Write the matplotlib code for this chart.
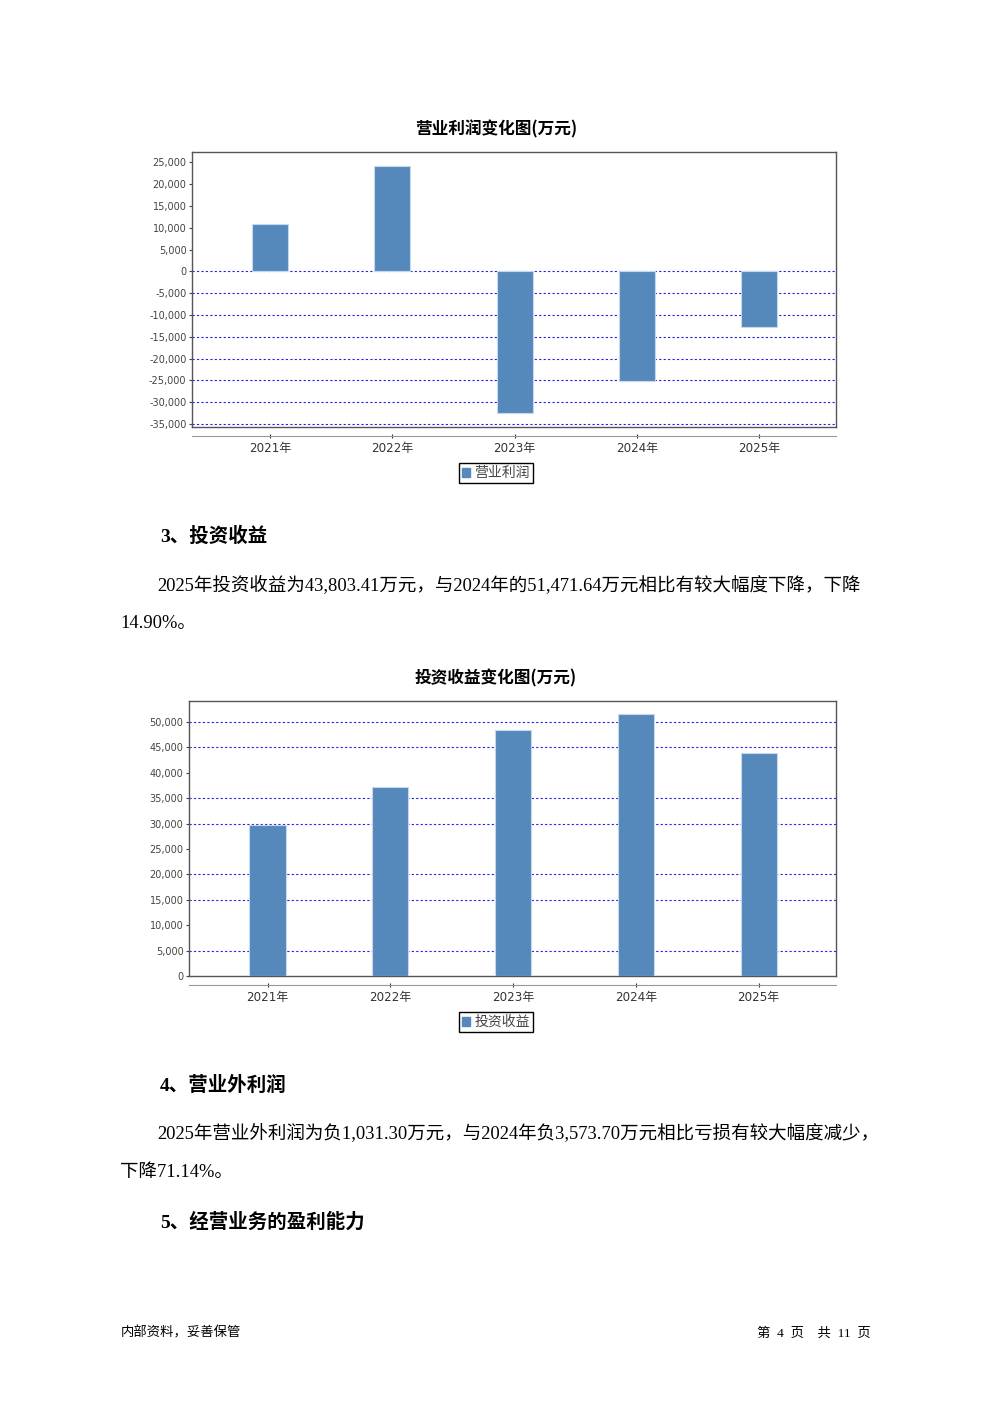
import matplotlib.pyplot as plt
from matplotlib.patches import Patch
from matplotlib.ticker import FuncFormatter

plt.rcParams['font.family'] = ['DejaVu Sans', 'Noto Sans CJK SC']
plt.rcParams['axes.unicode_minus'] = False

# 数据
years = ['2021年', '2022年', '2023年', '2024年', '2025年']
op_profit = [10800, 24200, -32600, -25100, -12800]
invest_income = [29700, 37200, 48300, 51471.64, 43803.41]

W, H = 992, 1403
fig = plt.figure(figsize=(W / 100, H / 100), dpi=100)

BAR = '#5588bb'
EDGE = '#c8d8ec'
CJK_SERIF = ['Liberation Serif', 'Noto Sans CJK SC']


def px_axes(l, t, r, b):
    return fig.add_axes([l / W, 1 - b / H, (r - l) / W, (b - t) / H])


def bar_chart(box, title, title_y, values, ylim, yticks, grid, label, legend_y):
    l, t, r, b = box
    ax = px_axes(l, t, r, b)
    x = range(len(years))
    ax.bar(x, values, width=0.295, color=BAR, edgecolor=EDGE, linewidth=0.8, zorder=3)
    for g in grid:
        ax.axhline(g, color='#2222ee', lw=0.8, ls=(0, (2, 2)), zorder=1)
    ax.set_ylim(*ylim)
    ax.set_xlim(-0.64, len(years) - 1 + 0.63)
    ax.set_yticks(yticks)
    ax.yaxis.set_major_formatter(FuncFormatter(lambda v, p: f'{int(v):,}'))
    ax.tick_params(axis='y', labelsize=7, colors='#444444', length=2, pad=2)
    ax.set_xticks([])
    for s in ax.spines.values():
        s.set_color('#555555')
        s.set_linewidth(1)
    sec = ax.secondary_xaxis(-9 / (b - t))
    sec.set_xticks(list(x))
    sec.set_xticklabels(years)
    sec.tick_params(axis='x', labelsize=8.6, colors='#333333', length=3, direction='inout', pad=3)
    sec.spines['bottom'].set_color('#999999')
    fig.text(496 / W, 1 - title_y / H, title, ha='center', va='center',
             fontsize=12, fontweight='bold', family=['Noto Sans CJK SC'])
    leg = fig.legend(handles=[Patch(facecolor=BAR, edgecolor=BAR, label=label)],
                     loc='center', bbox_to_anchor=(496 / W, 1 - legend_y / H),
                     fontsize=10, fancybox=False, edgecolor='black', framealpha=1,
                     handlelength=0.6, handleheight=0.6, handletextpad=0.3,
                     borderpad=0.25, borderaxespad=0)
    leg.get_frame().set_linewidth(1)
    for txt in leg.get_texts():
        txt.set_color('#444444')
    return ax


bar_chart((192, 152, 836, 427), '营业利润变化图(万元)', 129, op_profit,
          (-35700, 27400), list(range(-35000, 25001, 5000)),
          list(range(-35000, 1, 5000)), '营业利润', 473)

bar_chart((189, 701, 836, 976), '投资收益变化图(万元)', 678, invest_income,
          (0, 54100), list(range(0, 50001, 5000)),
          [5000, 15000, 20000, 30000, 35000, 45000, 50000], '投资收益', 1022)


def put(x, y, s, size=13.3, bold=False, family=CJK_SERIF):
    fig.text(x / W, 1 - y / H, s, ha='left', va='center', fontsize=size,
             fontweight='bold' if bold else 'normal', family=family)


put(160, 536, '3、投资收益', size=14, bold=True)
put(157, 585, '2025年投资收益为43,803.41万元，与2024年的51,471.64万元相比有较大幅度下降，下降')
put(120, 623, '14.90%。')
put(160, 1085, '4、营业外利润', size=14, bold=True)
put(157, 1134, '2025年营业外利润为负1,031.30万元，与2024年负3,573.70万元相比亏损有较大幅度减少，')
put(120, 1172, '下降71.14%。')
put(160, 1222, '5、经营业务的盈利能力', size=14, bold=True)
put(121, 1333, '内部资料，妥善保管', size=9.6)
fig.text(871 / W, 1 - 1333 / H, '第  4  页    共  11  页', ha='right', va='center',
         fontsize=9.6, family=CJK_SERIF)

fig.savefig('out.png', dpi=100)
